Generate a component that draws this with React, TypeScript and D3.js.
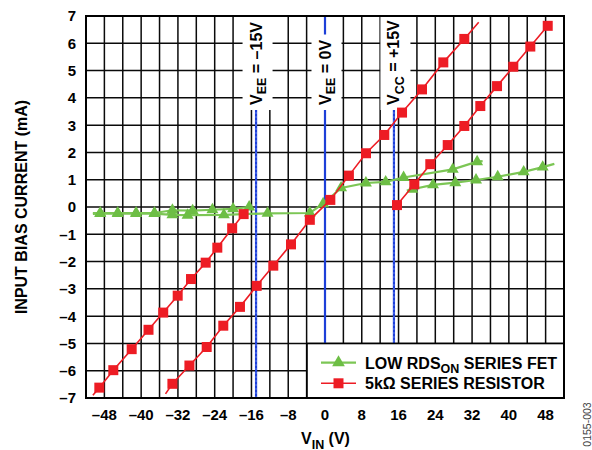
import React, { useEffect, useRef } from 'react';
import * as d3 from 'd3';

// ---------- data ----------
// [VIN (V), input bias current (mA), marker (1) or line-only point (0)]
const resSupplyLeft: [number, number, number][] = [
  [-50.5, -6.9, 0], [-49.1, -6.62, 1], [-46.06, -5.98, 1], [-42.06, -5.21, 1], [-38.4, -4.5, 1],
  [-35.2, -3.87, 1], [-32.05, -3.25, 1], [-29.15, -2.64, 1], [-25.96, -2.04, 1], [-23.43, -1.49, 1],
  [-20.2, -0.78, 1], [-17.7, -0.26, 1],
];
const resUnpowered: [number, number, number][] = [
  [-34.7, -6.85, 0], [-33.2, -6.48, 1], [-29.5, -5.81, 1], [-25.74, -5.13, 1], [-22.13, -4.35, 1],
  [-18.5, -3.66, 1], [-14.86, -2.89, 1], [-11.25, -2.15, 1], [-7.4, -1.37, 1], [-3.3, -0.47, 1],
  [1.16, 0.26, 1], [5.2, 1.15, 1], [8.92, 1.97, 1], [12.9, 2.64, 1], [16.76, 3.46, 1], [21.1, 4.31, 1],
  [25.74, 5.3, 1], [30.31, 6.16, 1], [33.44, 6.77, 0],
];
const resSupplyRight: [number, number, number][] = [
  [15.67, 0.07, 1], [19.43, 0.83, 1], [22.91, 1.57, 1], [26.7, 2.27, 1], [30.31, 2.97, 1],
  [33.79, 3.7, 1], [37.43, 4.43, 1], [40.97, 5.14, 1], [44.67, 5.88, 1], [48.46, 6.64, 1],
];
const fetSupplyLeft: [number, number, number][] = [
  [-50.5, -0.22, 0], [-48.9, -0.22, 1], [-45.1, -0.22, 1], [-41.1, -0.22, 1], [-37.1, -0.22, 1],
  [-33.2, -0.12, 1], [-28.8, -0.13, 1], [-24.5, -0.1, 1], [-20.0, -0.07, 1], [-16.5, 0.0, 1],
];
const fetUnpowered: [number, number, number][] = [
  [-50.5, -0.25, 0], [-48.9, -0.24, 1], [-45.1, -0.24, 1], [-41.1, -0.24, 1], [-37.1, -0.24, 1],
  [-33.2, -0.29, 1], [-29.9, -0.3, 1], [-22.0, -0.29, 1], [-12.5, -0.23, 1], [-3.3, -0.22, 1],
  [-0.4, 0.12, 1], [3.5, 0.7, 1], [8.9, 0.88, 1], [13.2, 0.92, 1], [17.1, 1.08, 1], [27.8, 1.38, 1],
  [33.1, 1.66, 1], [34.3, 1.68, 0],
];
const fetSupplyRight: [number, number, number][] = [
  [17.8, 0.6, 0], [19.0, 0.65, 1], [23.5, 0.81, 1], [28.35, 0.89, 1], [32.86, 0.99, 1],
  [37.58, 1.11, 1], [43.23, 1.29, 1], [47.37, 1.46, 1], [49.9, 1.58, 0],
];

const xDomain: [number, number] = [-52, 52];
const yDomain: [number, number] = [-7, 7];
const xGridStep = 4;
const yGridStep = 1;
const xTickValues = [-48, -40, -32, -24, -16, -8, 0, 8, 16, 24, 32, 40, 48];
const yTickValues = [-7, -6, -5, -4, -3, -2, -1, 0, 1, 2, 3, 4, 5, 6, 7];

const supplyLines = [
  { v: -15, main: 'V', sub: 'EE', rest: ' = –15V' },
  { v: 0, main: 'V', sub: 'EE', rest: ' = 0V' },
  { v: 15, main: 'V', sub: 'CC', rest: ' = +15V' },
];

const legendItems = [
  { kind: 'fet', main: 'LOW RDS', sub: 'ON', rest: ' SERIES FET' },
  { kind: 'res', main: '5kΩ SERIES RESISTOR', sub: '', rest: '' },
];

// ---------- style ----------
const W = 592;
const H = 450;
const M = { left: 86, right: 564, top: 16, bottom: 398 };
const RED = '#ed1c24';
const GREEN = '#6dbe45';
const GREEN_LINE = '#7cc655';
const BLUE = '#1d3fd8';
const FONT = '"Liberation Sans", Arial, Helvetica, sans-serif';
const SUB_SIZE = 12.5;
const SUB_DY = 4.5;
const fmt = (d: number) => (d < 0 ? '–' + Math.abs(d) : String(d));

export default function App() {
  const ref = useRef<SVGSVGElement>(null);

  useEffect(() => {
    const svg = d3.select(ref.current!);
    svg.selectAll('*').remove();

    const x = d3.scaleLinear().domain(xDomain).range([M.left, M.right]);
    const y = d3.scaleLinear().domain(yDomain).range([M.bottom, M.top]);

    // grid
    const grid = svg.append('g').attr('stroke', '#0a0a0a').attr('stroke-width', 1.5);
    d3.range(xDomain[0], xDomain[1] + 0.001, xGridStep).forEach((v) => {
      grid.append('line').attr('x1', x(v)).attr('x2', x(v)).attr('y1', M.top).attr('y2', M.bottom);
    });
    d3.range(yDomain[0], yDomain[1] + 0.001, yGridStep).forEach((v) => {
      grid.append('line').attr('y1', y(v)).attr('y2', y(v)).attr('x1', M.left).attr('x2', M.right);
    });

    // supply lines
    supplyLines.forEach((s) => {
      svg.append('line').attr('x1', x(s.v)).attr('x2', x(s.v)).attr('y1', M.top).attr('y2', M.bottom)
        .attr('stroke', BLUE).attr('stroke-width', 2.2);
      if (s.v !== 0) {
        svg.append('line').attr('x1', x(s.v)).attr('x2', x(s.v)).attr('y1', M.top).attr('y2', M.bottom)
          .attr('stroke', '#8fa8ff').attr('stroke-width', 0.6).attr('stroke-dasharray', '2 2');
      }
    });

    // supply labels
    supplyLines.forEach((s) => {
      const g = svg.append('g').attr('transform', `translate(${x(s.v) + 5.5},105) rotate(-90)`);
      const bg = g.append('rect').attr('fill', '#fff');
      const t = g.append('text').attr('font-family', FONT).attr('font-weight', 'bold')
        .attr('font-size', 16).attr('fill', '#000');
      t.append('tspan').text(s.main);
      t.append('tspan').attr('font-size', SUB_SIZE).attr('dy', SUB_DY).text(s.sub);
      t.append('tspan').attr('dy', -SUB_DY).text(s.rest);
      const b = (t.node() as SVGTextElement).getBBox();
      bg.attr('x', b.x - 5).attr('width', b.width + 10).attr('y', -19).attr('height', 30);
    });

    // series
    const line = d3.line<[number, number, number]>().x((d) => x(d[0])).y((d) => y(d[1]));
    const drawSeries = (data: [number, number, number][], kind: 'fet' | 'res') => {
      svg.append('path').attr('d', line(data)!).attr('fill', 'none')
        .attr('stroke', kind === 'fet' ? GREEN_LINE : RED)
        .attr('stroke-width', kind === 'fet' ? 2.2 : 1.6);
    };
    const drawMarkers = (data: [number, number, number][], kind: 'fet' | 'res') => {
      const sym = d3.symbol().type(kind === 'fet' ? d3.symbolTriangle : d3.symbolSquare)
        .size(kind === 'fet' ? 62 : 100);
      svg.append('g').selectAll('path').data(data.filter((d) => d[2] === 1)).join('path')
        .attr('d', sym()!)
        .attr('transform', (d) => `translate(${x(d[0])},${y(d[1])})`)
        .attr('fill', kind === 'fet' ? GREEN : RED);
    };
    const fets = [fetSupplyLeft, fetUnpowered, fetSupplyRight];
    const ress = [resSupplyLeft, resUnpowered, resSupplyRight];
    fets.forEach((d) => drawSeries(d, 'fet'));
    fets.forEach((d) => drawMarkers(d, 'fet'));
    ress.forEach((d) => drawSeries(d, 'res'));
    ress.forEach((d) => drawMarkers(d, 'res'));

    // legend
    const lg = svg.append('g');
    lg.append('rect').attr('x', 307).attr('y', 343.5).attr('width', M.right - 307).attr('height', M.bottom - 343.5)
      .attr('fill', '#fff').attr('stroke', '#000').attr('stroke-width', 1.6);
    legendItems.forEach((it, i) => {
      const cy = 362.7 + i * 20.6;
      const fet = it.kind === 'fet';
      lg.append('line').attr('x1', 321).attr('x2', 356).attr('y1', cy).attr('y2', cy)
        .attr('stroke', fet ? GREEN_LINE : RED).attr('stroke-width', fet ? 2.2 : 1.6);
      lg.append('path')
        .attr('d', d3.symbol().type(fet ? d3.symbolTriangle : d3.symbolSquare).size(fet ? 70 : 100)()!)
        .attr('transform', `translate(338.5,${cy})`).attr('fill', fet ? GREEN : RED);
      const t = lg.append('text').attr('x', 365).attr('y', cy + 5.8).attr('font-family', FONT)
        .attr('font-weight', 'bold').attr('font-size', 16).attr('fill', '#000');
      t.append('tspan').text(it.main);
      if (it.sub) {
        t.append('tspan').attr('font-size', SUB_SIZE).attr('dy', SUB_DY).text(it.sub);
        t.append('tspan').attr('dy', -SUB_DY).text(it.rest);
      }
    });

    // frame
    svg.append('rect').attr('x', M.left).attr('y', M.top).attr('width', M.right - M.left)
      .attr('height', M.bottom - M.top).attr('fill', 'none').attr('stroke', '#000').attr('stroke-width', 2);

    // tick labels
    const tl = svg.append('g').attr('font-family', FONT).attr('font-weight', 'bold').attr('font-size', 15).attr('fill', '#000');
    yTickValues.forEach((v) => {
      tl.append('text').attr('x', 76).attr('y', y(v)).attr('dy', '0.36em').attr('text-anchor', 'end').text(fmt(v));
    });
    xTickValues.forEach((v) => {
      tl.append('text').attr('x', x(v)).attr('y', 420).attr('text-anchor', 'middle').text(fmt(v));
    });

    // axis titles
    svg.append('text').attr('transform', 'translate(27,207) rotate(-90)').attr('text-anchor', 'middle')
      .attr('font-family', FONT).attr('font-weight', 'bold').attr('font-size', 16).text('INPUT BIAS CURRENT (mA)');
    const xt = svg.append('text').attr('x', 301).attr('y', 444).attr('font-family', FONT)
      .attr('font-weight', 'bold').attr('font-size', 16);
    xt.append('tspan').text('V');
    xt.append('tspan').attr('font-size', SUB_SIZE).attr('dy', SUB_DY).text('IN');
    xt.append('tspan').attr('dy', -SUB_DY).text(' (V)');

    svg.append('text').attr('transform', 'translate(591,424.5) rotate(-90)').attr('text-anchor', 'middle')
      .attr('font-family', FONT).attr('font-size', 10.5).attr('fill', '#444').text('0155-003');
  }, []);

  return (
    <svg ref={ref} width={W} height={H} viewBox={`0 0 ${W} ${H}`}
      style={{ position: 'absolute', left: 0, top: 0, background: '#fff' }} />
  );
}
